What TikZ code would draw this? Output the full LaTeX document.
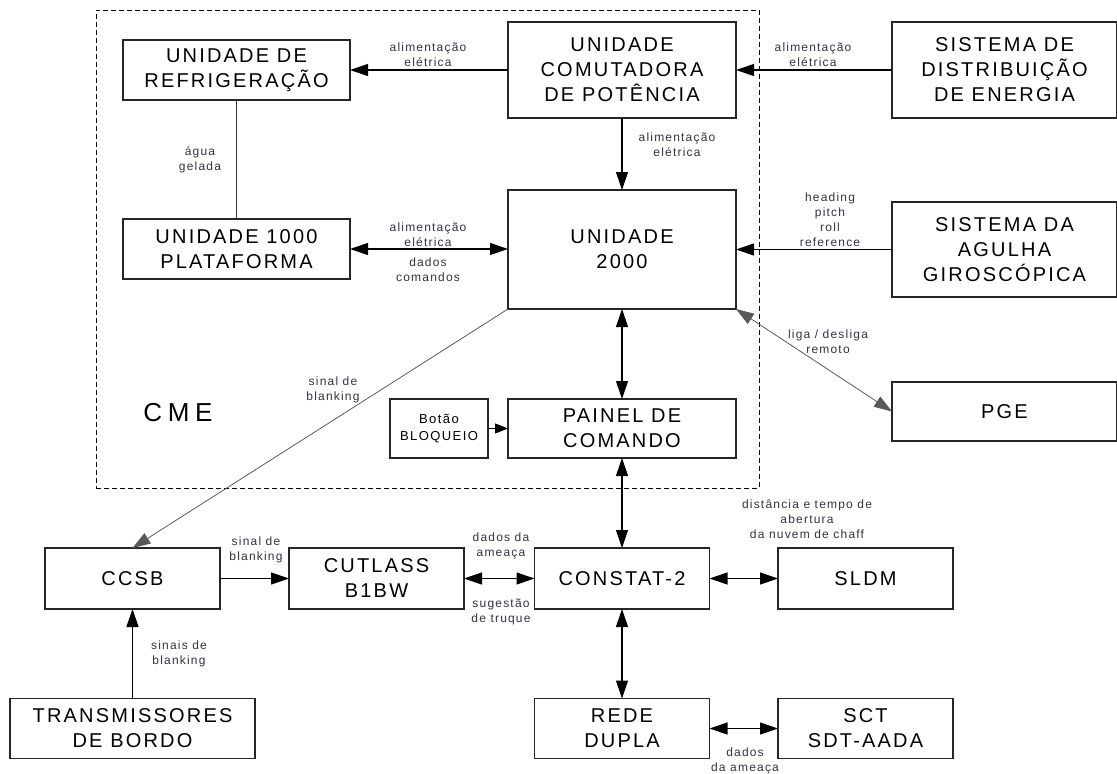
\documentclass[tikz,border=0pt]{standalone}
\usepackage{fontspec}
\setmainfont{Liberation Sans}
\newfontfamily\boxfont[LetterSpace=11]{Liberation Sans}
\newfontfamily\lblfont[LetterSpace=10]{Liberation Sans}
\newfontfamily\cmefont[LetterSpace=22]{Liberation Sans}
\usetikzlibrary{arrows.meta}
\definecolor{lblcol}{RGB}{55,48,62}
\begin{document}
\begin{tikzpicture}[x=1pt,y=-1pt,
  box/.style={draw=black!85, line width=1.3pt, inner sep=0pt, outer sep=0pt, align=center,
    font=\boxfont\fontsize{20}{25}\selectfont},
  smallbox/.style={box, font=\boxfont\fontsize{13}{17}\selectfont},
  lbl/.style={inner sep=0pt, align=center, text=lblcol, font=\lblfont\fontsize{12}{15}\selectfont},
  conn/.style={line width=1.1pt, draw=black},
  diag/.style={line width=0.8pt, draw=black!65},
  tip/.style={-{Triangle[length=18pt,width=12pt]}},
  both/.style={{Triangle[length=18pt,width=12pt]}-{Triangle[length=18pt,width=12pt]}},
  smalltip/.style={-{Triangle[length=13pt,width=10pt]}},
  cmebox/.style={draw=black, line width=0.9pt, dash pattern=on 5pt off 3pt, inner sep=0pt, outer sep=0pt}
]
\useasboundingbox (0,0) rectangle (1117,774);

% CME dashed region
\node[cmebox, minimum width=663pt, minimum height=478pt] (cme) at (427.5,249) {};
\node[inner sep=0pt, font=\cmefont\fontsize{26}{30}\selectfont] (cmelbl) at (178,413) {CME};

% boxes
\node[box, minimum width=227pt, minimum height=60pt] (refr) at (236.5,70) {UNIDADE DE\\REFRIGERAÇÃO};
\node[box, minimum width=227pt, minimum height=60pt] (u1000) at (236.5,249) {UNIDADE 1000\\PLATAFORMA};
\node[box, minimum width=228pt, minimum height=96pt] (comut) at (622,70) {UNIDADE\\COMUTADORA\\DE POTÊNCIA};
\node[box, minimum width=228pt, minimum height=119pt] (u2000) at (622,249.5) {UNIDADE\\2000};
\node[box, minimum width=228pt, minimum height=59pt] (painel) at (622,428.5) {PAINEL DE\\COMANDO};
\node[smallbox, minimum width=98pt, minimum height=59pt] (botao) at (439,428.5) {Botão\\BLOQUEIO};
\node[box, minimum width=225pt, minimum height=96pt] (sde) at (1004.5,70) {SISTEMA DE\\DISTRIBUIÇÃO\\DE ENERGIA};
\node[box, minimum width=225pt, minimum height=95pt] (sag) at (1004.5,249.5) {SISTEMA DA\\AGULHA\\GIROSCÓPICA};
\node[box, minimum width=225pt, minimum height=59pt] (pge) at (1004.5,411.5) {PGE};

\node[box, minimum width=175pt, minimum height=61pt] (ccsb) at (132.5,578.5) {CCSB};
\node[box, minimum width=175pt, minimum height=61pt] (cutlass) at (376.5,578.5) {CUTLASS\\B1BW};
\node[box, minimum width=175pt, minimum height=61pt] (constat) at (622,578.5) {CONSTAT-2};
\node[box, minimum width=175pt, minimum height=61pt] (sldm) at (865.5,578.5) {SLDM};
\node[box, minimum width=245pt, minimum height=60pt] (trans) at (132.5,728.5) {TRANSMISSORES\\DE BORDO};
\node[box, minimum width=175pt, minimum height=60pt] (rede) at (622,728.5) {REDE\\DUPLA};
\node[box, minimum width=175pt, minimum height=60pt] (sct) at (865.5,728.5) {SCT\\SDT-AADA};

% connectors
\draw[conn, tip] (comut.west) -- (refr.east);
\draw[conn, tip] (sde.west) -- (comut.east);
\draw[conn, tip] (comut.south) -- (u2000.north);
\draw[line width=0.9pt, draw=black!80] (refr.south) -- (u1000.north);
\draw[conn, both] (u1000.east) -- (u2000.west |- u1000.east);
\draw[conn, tip] (sag.west) -- (u2000.east);
\draw[conn, both] (u2000.south) -- (painel.north);
\draw[conn, smalltip] (botao.east) -- (painel.west);
\draw[diag, both] (u2000.south east) -- (pge.west);
\draw[diag, tip] (u2000.south west) -- (ccsb.north);
\draw[conn, both] (painel.south) -- (constat.north);
\draw[conn, tip] (ccsb.east) -- (cutlass.west);
\draw[conn, both] (cutlass.east) -- (constat.west);
\draw[conn, both] (constat.east) -- (sldm.west);
\draw[conn, tip] (trans.north) -- (ccsb.south);
\draw[conn, both] (constat.south) -- (rede.north);
\draw[conn, both] (rede.east) -- (sct.west);

% labels
\node[lbl] (l1) at (428,54.5) {alimentação\\elétrica};
\node[lbl] (l2) at (813,54.5) {alimentação\\elétrica};
\node[lbl] (l3) at (677,145) {alimentação\\elétrica};
\node[lbl] (l4) at (200,159.5) {água\\gelada};
\node[lbl] (l5) at (428,234.5) {alimentação\\elétrica};
\node[lbl] (l6) at (428,270) {dados\\comandos};
\node[lbl] (l7) at (830,220) {heading\\pitch\\roll\\reference};
\node[lbl] (l8) at (828,341.5) {liga / desliga\\remoto};
\node[lbl] (l9) at (333,390) {sinal de\\blanking};
\node[lbl] (l10) at (256,549.5) {sinal de\\blanking};
\node[lbl] (l11) at (501,545.5) {dados da\\ameaça};
\node[lbl] (l12) at (501,611.5) {sugestão\\de truque};
\node[lbl] (l13) at (807,519) {distância e tempo de\\abertura\\da nuvem de chaff};
\node[lbl] (l14) at (179,653.5) {sinais de\\blanking};
\node[lbl] (l15) at (745,761) {dados\\da ameaça};
\end{tikzpicture}
\end{document}
